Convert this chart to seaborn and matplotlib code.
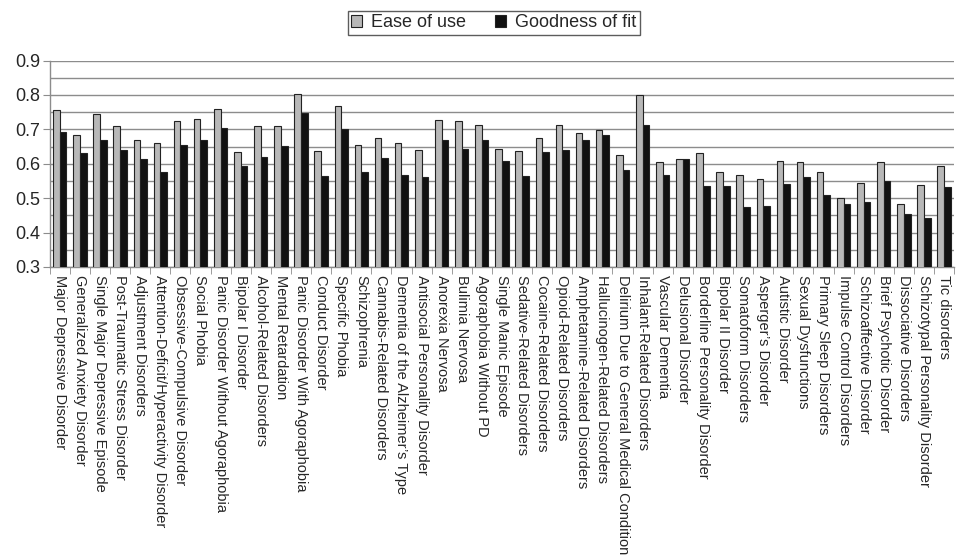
import numpy as np
import pandas as pd
import matplotlib
matplotlib.use("Agg")
import matplotlib.pyplot as plt
from matplotlib.patches import Patch
from matplotlib.ticker import MultipleLocator, FixedLocator
import seaborn as sns

categories = [
    "Major Depressive Disorder", "Generalized Anxiety Disorder", "Single Major Depressive Episode",
    "Post-Traumatic Stress Disorder", "Adjustment Disorders", "Attention-Deficit/Hyperactivity Disorder",
    "Obsessive-Compulsive Disorder", "Social Phobia", "Panic Disorder Without Agoraphobia",
    "Bipolar I Disorder", "Alcohol-Related Disorders", "Mental Retardation",
    "Panic Disorder With Agoraphobia", "Conduct Disorder", "Specific Phobia", "Schizophrenia",
    "Cannabis-Related Disorders", "Dementia of the Alzheimer\u2019s Type", "Antisocial Personality Disorder",
    "Anorexia Nervosa", "Bulimia Nervosa", "Agoraphobia Without PD", "Single Manic Episode",
    "Sedative-Related Disorders", "Cocaine-Related Disorders", "Opioid-Related Disorders",
    "Amphetamine-Related Disorders", "Hallucinogen-Related Disorders",
    "Delirium Due to General Medical Condition", "Inhalant-Related Disorders", "Vascular Dementia",
    "Delusional Disorder", "Borderline Personality Disorder", "Bipolar II Disorder",
    "Somatoform Disorders", "Asperger\u2019s Disorder", "Autistic Disorder", "Sexual Dysfunctions",
    "Primary Sleep Disorders", "Impulse Control Disorders", "Schizoaffective Disorder",
    "Brief Psychotic Disorder", "Dissociative Disorders", "Schizotypal Personality Disorder",
    "Tic disorders",
]

ease_of_use = [
    0.756, 0.685, 0.744, 0.711, 0.669, 0.659, 0.724, 0.730, 0.759, 0.633,
    0.709, 0.709, 0.803, 0.636, 0.769, 0.654, 0.674, 0.660, 0.639, 0.727,
    0.724, 0.712, 0.644, 0.636, 0.674, 0.712, 0.689, 0.698, 0.624, 0.800,
    0.604, 0.615, 0.630, 0.577, 0.566, 0.556, 0.609, 0.604, 0.577, 0.500,
    0.545, 0.604, 0.483, 0.538, 0.592,
]

goodness_of_fit = [
    0.692, 0.631, 0.669, 0.639, 0.615, 0.577, 0.654, 0.669, 0.704, 0.592,
    0.621, 0.653, 0.748, 0.563, 0.701, 0.575, 0.616, 0.566, 0.560, 0.669,
    0.642, 0.669, 0.609, 0.563, 0.633, 0.639, 0.669, 0.683, 0.583, 0.712,
    0.566, 0.615, 0.536, 0.534, 0.474, 0.478, 0.542, 0.560, 0.510, 0.484,
    0.490, 0.551, 0.454, 0.442, 0.531,
]

series_names = ["Ease of use", "Goodness of fit"]
series_colors = ["#b8b8b8", "#111111"]

df = pd.DataFrame({
    "category": categories * 2,
    "series": [series_names[0]] * len(categories) + [series_names[1]] * len(categories),
    "value": ease_of_use + goodness_of_fit,
})

sns.set_style("white")
plt.rcParams["font.family"] = ["Liberation Sans", "DejaVu Sans"]

fig = plt.figure(figsize=(9.57, 5.56), dpi=100)
ax = fig.add_axes([0.052, 0.520, 0.945, 0.371])

sns.barplot(
    data=df, x="category", y="value", hue="series",
    palette=dict(zip(series_names, series_colors)),
    width=0.66, edgecolor="#222222", linewidth=0.8,
    ax=ax, legend=False, zorder=3,
)

ax.set_ylim(0.3, 0.9)
ax.set_xlim(-0.5, len(categories) - 0.5)
ax.yaxis.set_major_locator(MultipleLocator(0.1))
ax.yaxis.set_minor_locator(MultipleLocator(0.05))
ax.yaxis.set_major_formatter(matplotlib.ticker.FormatStrFormatter("%.1f"))
ax.grid(axis="y", which="both", color="#8c8c8c", linewidth=1.0, zorder=0)
ax.set_axisbelow(True)

for s in ["top", "right"]:
    ax.spines[s].set_visible(False)
for s in ["left", "bottom"]:
    ax.spines[s].set_color("#8c8c8c")
    ax.spines[s].set_linewidth(1.0)

ax.set_xlabel("")
ax.set_ylabel("")
ax.tick_params(axis="y", which="major", length=5, color="#8c8c8c", labelsize=13, pad=2, left=True)
ax.tick_params(axis="y", which="minor", length=0)
ax.set_xticks(range(len(categories)))
ax.set_xticklabels(categories, rotation=-90, ha="center", va="top", fontsize=10.5)
ax.tick_params(axis="x", which="major", length=0, pad=6)
ax.xaxis.set_minor_locator(FixedLocator(np.arange(-0.5, len(categories), 1.0)))
ax.tick_params(axis="x", which="minor", length=5, color="#8c8c8c", bottom=True)

handles = [Patch(facecolor=c, edgecolor="#222222", linewidth=0.8) for c in series_colors]
leg = fig.legend(
    handles, series_names, loc="upper center", bbox_to_anchor=(0.516, 0.997),
    ncol=2, fontsize=13, frameon=True, fancybox=False, handlelength=0.6,
    handleheight=0.6, handletextpad=0.5, columnspacing=1.6, borderpad=0.2,
)
leg.get_frame().set_edgecolor("#333333")
leg.get_frame().set_linewidth(1.0)

fig.savefig("out.png", dpi=100, facecolor="white")
